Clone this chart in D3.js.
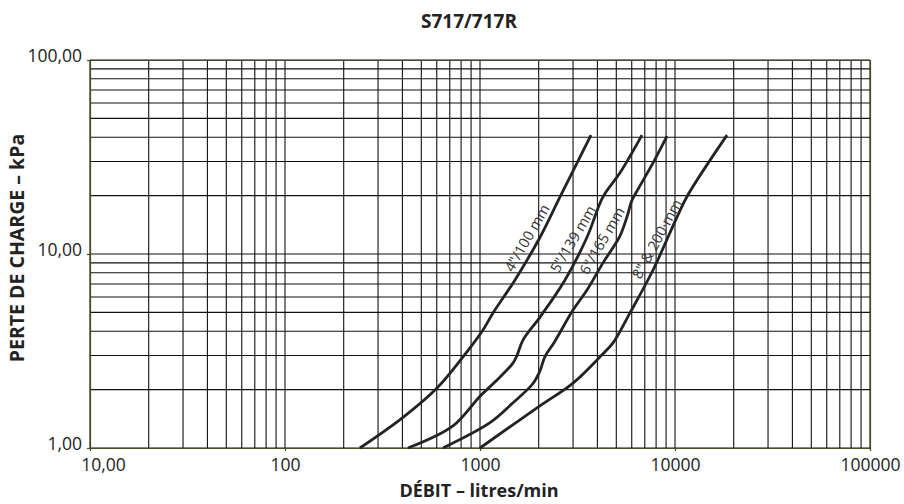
<!DOCTYPE html>
<html lang="fr">
<head>
<meta charset="UTF-8">
<title>S717/717R</title>
<script src="https://d3js.org/d3.v7.min.js"></script>
<style>
  body {
    margin: 0;
    background: #fff;
    font-family: "Open Sans", Arial, sans-serif;
  }
  .grid line {
    stroke: #111;
    stroke-width: 1.1;
  }
  .axis path, .axis line {
    stroke: #4a4a22;
    stroke-width: 1.2;
  }
  .axis text {
    font-family: "Open Sans", Arial, sans-serif;
    font-size: 17.5px;
    fill: #222;
  }
  .curve {
    fill: none;
    stroke: #232323;
    stroke-width: 2.8;
  }
  .curve-label {
    font-size: 14.5px;
    fill: #333;
  }
  .title {
    font-weight: bold;
    font-size: 19px;
    fill: #222;
  }
  .axis-title {
    font-weight: bold;
    font-size: 18px;
    fill: #222;
  }
</style>
</head>
<body>
<svg id="chart"></svg>

<script>
// axes
var xTickVals = [10, 100, 1000, 10000, 100000];
var xTickLabels = ["10,00", "100", "1000", "10000", "100000"];
var yTickVals = [1, 10, 100];
var yTickLabels = ["1,00", "10,00", "100,00"];

// courbes : [débit l/min, perte de charge kPa]
var seriesNames = ['4"/100 mm', '5"/139 mm', '6"/165 mm', '8" & 200·mm'];
var pipe4 = [[242, 1], [403, 1.44], [602, 2.04], [818, 2.95], [1036, 4.06], [1166, 4.97],
             [1512, 7.35], [2031, 12.2], [2572, 19.7], [3708, 41]];
var pipe5 = [[427, 1], [727, 1.3], [1000, 1.85], [1200, 2.2], [1476, 2.74], [1548, 3.0],
             [1661, 3.6], [2031, 4.73], [2729, 7.35], [3538, 12.2], [4273, 19.7], [5223, 26.2], [6773, 41]];
var pipe6 = [[646, 1], [1125, 1.35], [1476, 1.71], [1870, 2.15], [2031, 2.5], [2150, 2.95],
             [2400, 3.5], [3000, 5.14], [3538, 6.52], [4273, 9.0], [5223, 12.4], [5700, 15.8],
             [6000, 18.8], [6500, 21.8], [7715, 29.5], [9100, 40.5]];
var pipe8 = [[1000, 1], [1960, 1.61], [3000, 2.16], [4125, 2.95], [4810, 3.48], [5877, 4.97],
             [7715, 8.27], [10240, 15.5], [11660, 20.2], [18480, 41]];
var seriesData = [pipe4, pipe5, pipe6, pipe8];

// position des étiquettes (centre, en unités de données)
var labelAt = [[1742, 12.1], [2999, 11.95], [4223, 11.7], [8086, 11.95]];
var labelAngle = [-60, -59.5, -60, -61.5];

var width = 904, height = 504;
var plotLeft = 90, plotRight = 870, plotTop = 60, plotBottom = 448;

var svg = d3.select("#chart")
  .attr("width", width)
  .attr("height", height);

var x = d3.scaleLog().domain([10, 100000]).range([plotLeft, plotRight]);
var y = d3.scaleLog().domain([1, 100]).range([plotBottom, plotTop]);

// grille
var grid = svg.append("g").attr("class", "grid");
grid.selectAll("line.v")
  .data(x.ticks())
  .enter().append("line")
  .attr("class", "v")
  .attr("x1", d => x(d)).attr("x2", d => x(d))
  .attr("y1", plotTop).attr("y2", plotBottom);
grid.selectAll("line.h")
  .data(y.ticks())
  .enter().append("line")
  .attr("class", "h")
  .attr("x1", plotLeft).attr("x2", plotRight)
  .attr("y1", d => y(d)).attr("y2", d => y(d));

// axes
svg.append("g")
  .attr("class", "axis")
  .attr("transform", "translate(0," + plotBottom + ")")
  .call(d3.axisBottom(x).tickValues(xTickVals).tickSize(3).tickSizeOuter(0)
    .tickFormat((d, i) => xTickLabels[i]))
  .selectAll("text")
  .attr("dy", "0.95em")
  .attr("dx", (d, i) => i === 0 ? 13 : 0);

svg.append("g")
  .attr("class", "axis")
  .attr("transform", "translate(" + plotLeft + ",0)")
  .call(d3.axisLeft(y).tickValues(yTickVals).tickSize(3).tickSizeOuter(0)
    .tickFormat((d, i) => yTickLabels[i]))
  .selectAll("text").attr("dy", "0.1em").attr("x", -8);

svg.append("g")
  .attr("class", "axis")
  .attr("transform", "translate(0," + plotTop + ")")
  .call(d3.axisTop(x).tickValues([]).tickSizeOuter(0));

svg.append("g")
  .attr("class", "axis")
  .attr("transform", "translate(" + plotRight + ",0)")
  .call(d3.axisRight(y).tickValues([]).tickSizeOuter(0));

// courbes
var line = d3.line()
  .x(d => x(d[0]))
  .y(d => y(d[1]))
  .curve(d3.curveCatmullRom.alpha(0.5));

svg.selectAll("path.curve")
  .data(seriesData)
  .enter().append("path")
  .attr("class", "curve")
  .attr("d", line);

svg.selectAll("text.curve-label")
  .data(seriesNames)
  .enter().append("text")
  .attr("class", "curve-label")
  .attr("text-anchor", "middle")
  .attr("dy", "0.35em")
  .attr("transform", (d, i) => "translate(" + x(labelAt[i][0]) + "," + y(labelAt[i][1]) + ") rotate(" + labelAngle[i] + ")")
  .text(d => d);

// titres
svg.append("text")
  .attr("class", "title")
  .attr("x", 469)
  .attr("y", 28)
  .attr("text-anchor", "middle")
  .text("S717/717R");

svg.append("text")
  .attr("class", "axis-title")
  .attr("x", 479)
  .attr("y", 497)
  .attr("text-anchor", "middle")
  .text("DÉBIT – litres/min");

svg.append("text")
  .attr("class", "axis-title")
  .attr("transform", "translate(24,248) rotate(-90)")
  .attr("text-anchor", "middle")
  .style("font-size", "19.5px")
  .text("PERTE DE CHARGE – kPa");
</script>
</body>
</html>
